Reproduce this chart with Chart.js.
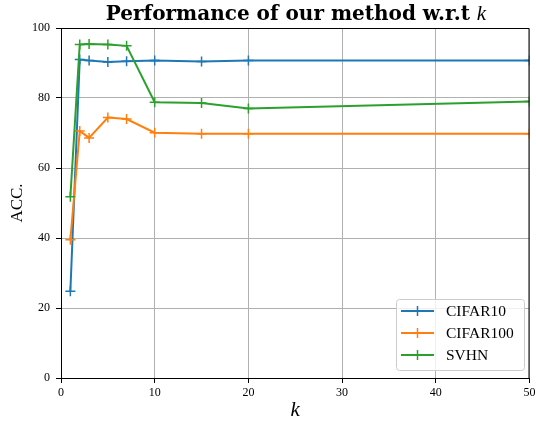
<!DOCTYPE html>
<html>
<head>
<meta charset="utf-8">
<script src="https://cdn.jsdelivr.net/npm/chart.js@4"></script>
<style>
  html, body { margin: 0; padding: 0; background: #fff; }
  #wrap { width: 536px; height: 424px; }
</style>
</head>
<body>
<div id="wrap"><canvas id="chart" width="536" height="424"></canvas></div>
<script>
// values
const ks = [1, 2, 3, 5, 7, 10, 15, 20, 50];
const cifar10 = [24.8, 91.0, 90.7, 90.3, 90.5, 90.7, 90.4, 90.7, 90.7];
const cifar100 = [39.5, 70.6, 68.6, 74.4, 74.0, 70.1, 69.8, 69.8, 69.8];
const svhn = [51.8, 95.3, 95.4, 95.3, 94.9, 78.8, 78.6, 77.0, 79.0];
const seriesNames = ["CIFAR10", "CIFAR100", "SVHN"];
const seriesColors = ["#1f77b4", "#ff7f0e", "#2ca02c"];

const serif = "'Liberation Serif', 'DejaVu Serif', serif";
const titleSerif = "'DejaVu Serif', 'Liberation Serif', serif";

function toPoints(vals) {
  return ks.map((k, i) => ({ x: k, y: vals[i] }));
}

let datasets = [cifar10, cifar100, svhn].map((vals, i) => ({
  label: seriesNames[i],
  data: toPoints(vals),
  borderColor: seriesColors[i],
  backgroundColor: seriesColors[i],
  borderWidth: 2,
  pointStyle: "cross",
  pointRadius: 5,
  pointBorderWidth: 1.5,
  pointHoverRadius: 5,
  tension: 0,
  order: 3 - i // later series drawn on top, like matplotlib
}));

// title with italic k, box spines, and the legend inside the plot
const extras = {
  id: "extras",
  afterDraw(chart) {
    const ctx = chart.ctx;
    const area = chart.chartArea;
    ctx.save();

    // top + right spines
    ctx.strokeStyle = "#000";
    ctx.lineWidth = 1;
    ctx.beginPath();
    ctx.moveTo(area.left, area.top + 0.5);
    ctx.lineTo(area.right - 0.5, area.top + 0.5);
    ctx.lineTo(area.right - 0.5, area.bottom);
    ctx.stroke();

    // title
    let part1 = "Performance of our method w.r.t ";
    ctx.font = "bold 20px " + titleSerif;
    let w1 = ctx.measureText(part1).width;
    ctx.font = "italic 21px " + serif;
    let w2 = ctx.measureText("k").width;
    let startX = 296 - (w1 + w2) / 2;
    ctx.fillStyle = "#000";
    ctx.textBaseline = "alphabetic";
    ctx.textAlign = "left";
    ctx.font = "bold 20px " + titleSerif;
    ctx.fillText(part1, startX, 20);
    ctx.font = "italic 21px " + serif;
    ctx.fillText("k", startX + w1, 20);

    // legend
    let bx = 396, by = 299, bw = 128, bh = 71;
    ctx.beginPath();
    ctx.roundRect(bx + 0.5, by + 0.5, bw, bh, 3);
    ctx.fillStyle = "rgba(255,255,255,0.8)";
    ctx.fill();
    ctx.strokeStyle = "#cccccc";
    ctx.lineWidth = 1;
    ctx.stroke();

    ctx.font = "15.5px " + serif;
    ctx.textBaseline = "middle";
    chart.data.datasets.forEach((ds, i) => {
      let y = 311 + i * 22;
      ctx.strokeStyle = ds.borderColor;
      ctx.lineWidth = 2;
      ctx.beginPath();
      ctx.moveTo(401, y);
      ctx.lineTo(434, y);
      ctx.stroke();
      ctx.lineWidth = 1.5;
      ctx.beginPath();
      ctx.moveTo(417.5, y - 5);
      ctx.lineTo(417.5, y + 5);
      ctx.stroke();
      ctx.fillStyle = "#000";
      ctx.fillText(ds.label, 446, y + 1);
    });
    ctx.restore();
  }
};

new Chart(document.getElementById("chart"), {
  type: "line",
  data: { datasets: datasets },
  options: {
    responsive: false,
    animation: false,
    layout: { padding: { top: 28, right: 6, left: 0, bottom: 0 } },
    plugins: {
      legend: { display: false },
      title: { display: false },
      tooltip: { enabled: false }
    },
    scales: {
      x: {
        type: "linear",
        min: 0,
        max: 50,
        ticks: {
          stepSize: 10,
          color: "#000",
          padding: 3,
          maxRotation: 0,
          font: { family: serif, size: 12 }
        },
        grid: { color: "#b0b0b0", lineWidth: 1, tickColor: "#000", tickLength: 5 },
        border: { color: "#000", width: 1 },
        title: {
          display: true,
          text: "k",
          color: "#000",
          font: { family: serif, size: 21, style: "italic" },
          padding: { top: 0, bottom: 1 }
        },
        afterFit(scale) {
          scale.height = 46;
          scale.paddingRight = 0;
          scale.paddingLeft = 0;
        }
      },
      y: {
        min: 0,
        max: 100,
        ticks: {
          stepSize: 20,
          color: "#000",
          padding: 6,
          font: { family: serif, size: 12 }
        },
        grid: { color: "#b0b0b0", lineWidth: 1, tickColor: "#000", tickLength: 5 },
        border: { color: "#000", width: 1 },
        title: {
          display: true,
          text: "ACC.",
          color: "#000",
          font: { family: serif, size: 17 },
          padding: { top: 7, bottom: 0 }
        },
        afterFit(scale) {
          scale.width = 61;
        }
      }
    }
  },
  plugins: [extras]
});
</script>
</body>
</html>
